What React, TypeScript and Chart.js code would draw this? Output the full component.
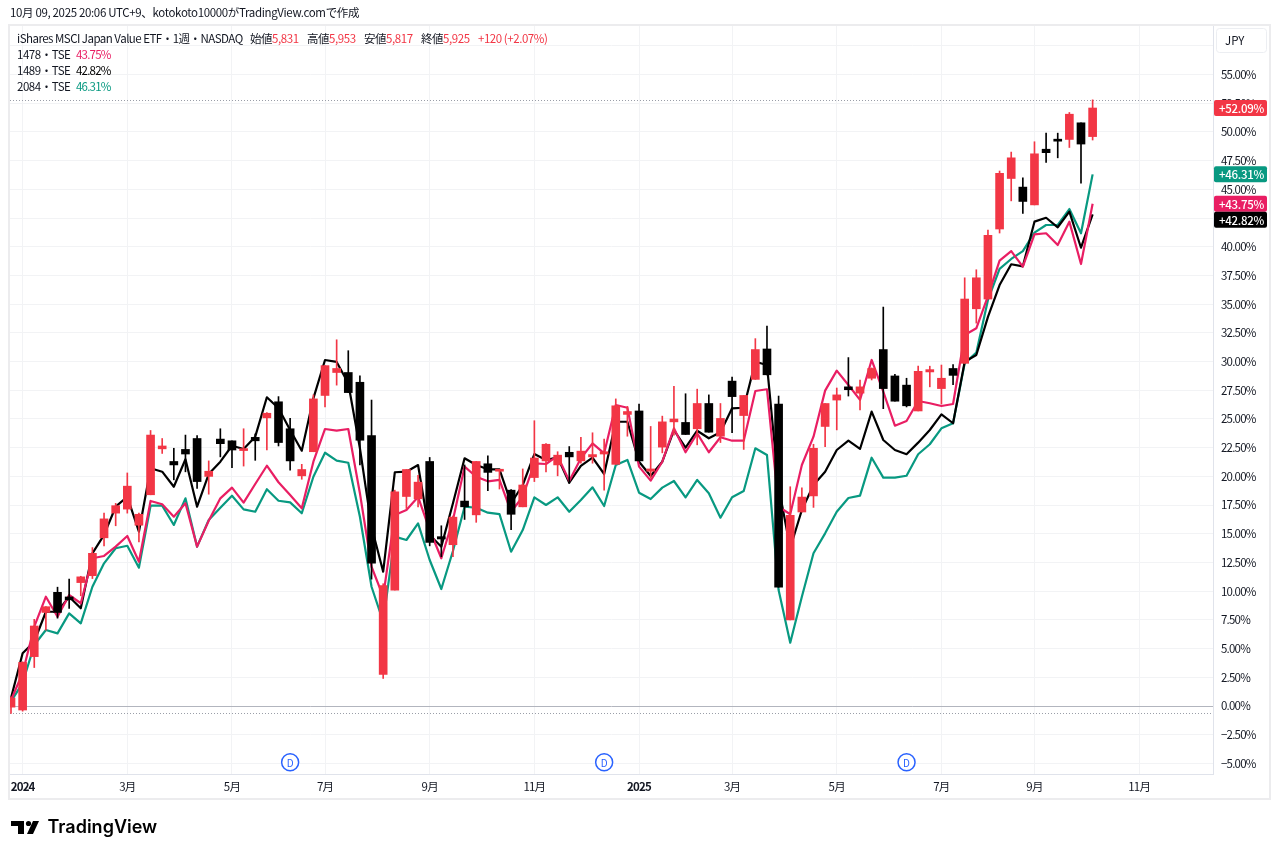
import React, { useEffect, useRef } from "react";
import { Chart, registerables } from "chart.js";

Chart.register(...registerables);

const FONT = '"Noto Sans CJK JP", sans-serif';
const RED = "#f23645";
const BLACK = "#000000";
const PINK = "#e91e63";
const TEAL = "#089981";
const TEXT = "#131722";

// weekly candles, % change from the first close
const opens = [
  -0.1, -0.35, 4.3, 8.15, 9.9, 9.5, 10.75, 11.35, 14.65, 16.8, 17.15, 15.75, 18.4, 22.4, 21.3, 22.35,
  23.3, 20, 23.25, 23.1, 22.25, 23.4, 25.1, 26.5, 24.15, 20.05, 22.15, 27.05, 29.05, 29.05, 28.2, 23.55,
  2.75, 10.1, 18.25, 18.05, 21.3, 14.75, 14.05, 17.85, 16.65, 21.1, 20.45, 18.8, 17.35, 19.9, 21.35, 21,
  22.1, 21.35, 21.7, 21.95, 21.05, 25.4, 25.7, 20.45, 22.55, 24.75, 24.7, 24.15, 26.35, 23.5, 28.3, 25.3,
  28.45, 31.1, 26.3, 7.5, 16.9, 18.3, 24.35, 26.65, 27.8, 27.25, 28.55, 31.05, 28.75, 27.95, 25.7, 29.1,
  27.65, 29.4, 29.85, 34.6, 35.45, 41.55, 45.95, 45.2, 43.65, 48.5, 49.3, 49.35, 50.8, 49.6,
];
const closes = [
  0.7, 3.8, 6.97, 8.65, 8.15, 9.25, 11.25, 13.3, 16.3, 17.45, 19.15, 16.7, 23.6, 22.65, 21, 21.95,
  19.55, 20.45, 22.85, 22.3, 22.4, 23.1, 25.5, 22.95, 21.35, 20.6, 26.75, 29.65, 29.4, 27.3, 23.15, 12.45,
  10.5, 18.65, 20.6, 19.5, 14.25, 14.55, 16.45, 17.35, 21.3, 20.35, 20.55, 16.7, 19.25, 21.6, 22.8, 21.85,
  21.7, 22.2, 21.9, 22.15, 26.15, 25.65, 21.35, 20.65, 24.75, 25, 23.65, 26.35, 23.85, 25.05, 26.95, 27.05,
  31.05, 28.85, 10.35, 16.6, 18.2, 22.45, 26.35, 27.1, 27.55, 27.8, 29.4, 27.65, 26.55, 26.15, 29.15, 29.3,
  28.55, 28.8, 35.45, 37.3, 41, 46.4, 47.75, 43.95, 48.1, 48.2, 49.2, 51.55, 48.95, 52.09,
];
const highs = [
  0.8, 3.85, 7.55, 8.65, 10.35, 11.05, 11.3, 13.8, 16.8, 17.65, 20.3, 16.8, 24, 23.3, 22.45, 23.6,
  23.55, 21.35, 24.15, 23.1, 24.15, 23.7, 25.55, 26.95, 25.05, 21.05, 27.1, 29.65, 31.9, 30.95, 28.75, 26.65,
  10.65, 18.8, 20.6, 20.1, 21.65, 15.7, 16.55, 21, 21.3, 21.8, 20.6, 18.85, 20.65, 24.85, 22.85, 22.15,
  22.6, 23.4, 23.8, 23.25, 26.75, 26.1, 26.3, 24.35, 25.25, 27.85, 27.2, 27.6, 27.1, 26.35, 28.65, 27.05,
  32, 33.1, 27, 19.1, 19, 22.8, 26.35, 27.7, 30.35, 28.4, 29.45, 34.75, 28.9, 28.55, 29.6, 29.6,
  29.7, 29.75, 37.3, 38, 41.45, 46.6, 48.25, 46, 49.15, 49.9, 49.9, 51.7, 50.8, 52.8,
];
const lows = [
  -0.65, -0.45, 3.35, 6.6, 7.65, 8.5, 9.6, 11.1, 13.95, 15.7, 16.8, 14.3, 18.4, 22, 19.7, 20.4,
  18.95, 18.45, 21.7, 20.75, 20.9, 21.4, 22.3, 22.65, 20.55, 19.75, 22.15, 26.05, 27.95, 27.3, 21, 11.05,
  2.4, 10.1, 17.2, 17.35, 13.95, 13, 13, 16.25, 16, 18.75, 18.9, 15.35, 17.35, 19.55, 20.4, 20.05,
  19.4, 21.15, 21.15, 18.8, 21.05, 23.5, 21.35, 19.85, 22.05, 23.6, 23.65, 22.75, 23.85, 22.95, 23.8, 22.35,
  28.45, 28.85, 10.35, 7.5, 16.9, 17.3, 22.6, 24.05, 27, 25.8, 28.4, 25.9, 26.55, 26.05, 25.7, 27.8,
  26.3, 28, 29.85, 33.35, 35.45, 41.2, 44, 42.9, 43.65, 47.35, 47.75, 48.65, 45.55, 49.3,
];

const series1478 = [
  0.5, 2.87, 6.91, 9.52, 7.78, 9.67, 8.95, 12.87, 13.07, 13.88, 14.81, 12.57, 17.86, 17.57, 16.49, 17.66,
  13.88, 16.14, 18.09, 19.02, 17.71, 19.34, 20.93, 19.49, 18.38, 17.22, 21.28, 24.13, 23.98, 24.13, 18.53, 12.13,
  9.52, 16.64, 17.07, 18.21, 15.33, 12.87, 16.2, 20.85, 19.97, 19.57, 19.69, 16.92, 18.23, 21.14, 21.08, 21.78,
  19.6, 21.58, 22.88, 22.01, 26.22, 25.98, 20.85, 19.63, 21.28, 24.19, 22.1, 23.75, 22.1, 23.41, 23.11, 23.11,
  27.44, 27.59, 17.36, 16.7, 20.99, 23.46, 27.47, 29.21, 27.96, 26.66, 30.14, 27.38, 24.42, 24.83, 26.57, 26.37,
  26.13, 26.31, 32.32, 32.9, 35.7, 38.79, 39.63, 38.27, 41.09, 41.18, 40.16, 42.19, 38.5, 43.75,
];
const series1489 = [
  0.7, 4.59, 5.6, 8.21, 8.21, 9.52, 8.51, 13.3, 14.9, 17.36, 18.23, 15.18, 20.71, 20.41, 19.1, 21.49,
  17.36, 20.2, 21.28, 22.67, 22.39, 23.46, 26.89, 25.93, 24.04, 22.24, 26.8, 30.14, 29.97, 28.11, 22.45, 15.62,
  11.7, 20.36, 20.41, 20.99, 14.9, 13.88, 17.66, 21.58, 20.99, 20.62, 20.62, 17.66, 19.25, 21.95, 21.43, 21.66,
  19.45, 20.91, 21.63, 20.21, 24.76, 24.76, 21.28, 20.03, 21.28, 24.04, 22.5, 23.98, 23.32, 23.84, 25.93, 25.98,
  29.99, 29.7, 19.08, 13.76, 17.07, 19.25, 20.41, 22.3, 23.11, 22.39, 25.64, 23.17, 22.3, 21.93, 22.94, 24.04,
  25.41, 24.63, 29.99, 30.57, 33.9, 36.67, 38.48, 38.3, 42.19, 42.53, 41.7, 43.06, 39.92, 42.82,
];
const series2084 = [
  0.4, 2, 5.31, 6.62, 6.33, 8.07, 7.2, 10.39, 12.43, 13.74, 13.96, 12.05, 17.45, 17.45, 15.77, 18.09,
  13.88, 16.2, 17.27, 18.32, 17.13, 16.92, 18.88, 17.88, 17.74, 16.79, 19.97, 22.06, 21.37, 21.19, 16.49, 10.39,
  7.34, 14.75, 14.46, 15.91, 12.72, 10.19, 13.5, 17.36, 17.27, 16.84, 16.72, 13.44, 15.33, 18.18, 17.51, 18.18,
  16.92, 17.94, 19.05, 17.42, 20.99, 21.43, 18.58, 18.03, 19.02, 19.6, 18.18, 19.69, 18.53, 16.4, 18.18, 18.73,
  22.45, 21.86, 10.1, 5.51, 9.52, 13.3, 15.04, 16.92, 18.12, 18.32, 21.63, 19.89, 19.89, 20.06, 21.93, 22.8,
  24.19, 24.63, 29.85, 30.78, 35.37, 38.07, 38.94, 39.63, 41.23, 41.9, 41.9, 43.29, 41.18, 46.31,
];

const timeTicks = [1, 10, 19, 27, 36, 45, 54, 62, 71, 80, 88, 97];
const timeLabels = ["2024", "3月", "5月", "7月", "9月", "11月", "2025", "3月", "5月", "7月", "9月", "11月"];
const yearLabels = ["2024", "2025"];
const priceTicks = [
  -5, -2.5, 0, 2.5, 5, 7.5, 10, 12.5, 15, 17.5, 20, 22.5, 25, 27.5, 30, 32.5, 35, 37.5, 40, 42.5, 45, 47.5, 50,
  52.5, 55, 57.5,
];
const dividendWeeks = [24, 51, 77];
const dividendLevel = -4.9;

const stamp = "10月 09, 2025 20:06 UTC+9、kotokoto10000がTradingView.comで作成";
const mainTitle = "iShares MSCI Japan Value ETF・1週・NASDAQ";
const ohlcNames = ["始値", "高値", "安値", "終値"];
const ohlcValues = ["5,831", "5,953", "5,817", "5,925"];
const ohlcChange = "+120 (+2.07%)";
const compareNames = ["1478・TSE", "1489・TSE", "2084・TSE"];
const compareValues = ["43.75%", "42.82%", "46.31%"];
const compareColors = [PINK, BLACK, TEAL];

const pts = (ys: number[]) => ys.map((y, x) => ({ x, y }));

const overlayPlugin = {
  id: "tvOverlay",
  beforeDraw(chart: any) {
    chart.ctx.letterSpacing = "-0.8px";
  },
  beforeDatasetsDraw(chart: any) {
    // series high / low price lines
    const { ctx, chartArea, scales } = chart;
    ctx.save();
    ctx.strokeStyle = "#9a9ea8";
    ctx.lineWidth = 1;
    ctx.setLineDash([1, 2]);
    [Math.max(...highs), Math.min(...lows)].forEach((v) => {
      const y = Math.round(scales.y.getPixelForValue(v)) + 0.5;
      ctx.beginPath();
      ctx.moveTo(chartArea.left, y);
      ctx.lineTo(chartArea.right, y);
      ctx.stroke();
    });
    ctx.restore();
  },
  afterDraw(chart: any) {
    const { ctx, scales, chartArea } = chart;
    ctx.save();

    // panel frame
    ctx.strokeStyle = "#ececee";
    ctx.lineWidth = 2;
    ctx.strokeRect(9, 25, 1261, 774);

    // D markers
    ctx.fillStyle = "#2962ff";
    ctx.font = `10px ${FONT}`;
    ctx.textAlign = "center";
    ctx.textBaseline = "middle";
    ctx.letterSpacing = "0px";
    dividendWeeks.forEach((w) => {
      ctx.fillText("D", scales.x.getPixelForValue(w), scales.y.getPixelForValue(dividendLevel) + 0.5);
    });

    // last value badges, pushed down when they would overlap
    const badges = [
      { v: closes[closes.length - 1], c: RED },
      { v: series2084[series2084.length - 1], c: TEAL },
      { v: series1478[series1478.length - 1], c: PINK },
      { v: series1489[series1489.length - 1], c: BLACK },
    ];
    let prev = -100;
    ctx.letterSpacing = "-0.3px";
    badges.forEach(({ v, c }) => {
      const cy = Math.max(scales.y.getPixelForValue(v), prev + 16);
      prev = cy;
      ctx.fillStyle = c;
      ctx.beginPath();
      ctx.roundRect(chartArea.right + 1, cy - 8, 53, 16, 2);
      ctx.fill();
      ctx.fillStyle = "#ffffff";
      ctx.font = `500 11.5px ${FONT}`;
      ctx.textAlign = "center";
      ctx.fillText(`+${v.toFixed(2)}%`, chartArea.right + 28.5, cy + 0.5);
    });

    // currency box
    ctx.fillStyle = "#ffffff";
    ctx.strokeStyle = "#eceef2";
    ctx.lineWidth = 1;
    ctx.beginPath();
    ctx.roundRect(1216.5, 28.5, 50, 24, 3);
    ctx.fill();
    ctx.stroke();
    ctx.fillStyle = TEXT;
    ctx.font = `11.5px ${FONT}`;
    ctx.textAlign = "left";
    ctx.letterSpacing = "0px";
    ctx.fillText("JPY", 1225, 41);

    // header texts
    ctx.fillStyle = TEXT;
    ctx.letterSpacing = "-0.35px";
    ctx.fillText(stamp, 10, 13);

    ctx.letterSpacing = "-0.52px";
    ctx.fillText(mainTitle, 17, 39);
    ctx.letterSpacing = "-0.45px";
    ohlcNames.forEach((name, i) => {
      const x = 250 + i * 57;
      ctx.fillStyle = TEXT;
      ctx.fillText(name, x, 39);
      ctx.fillStyle = RED;
      ctx.fillText(ohlcValues[i], x + ctx.measureText(name).width, 39);
    });
    ctx.fillStyle = RED;
    ctx.fillText(ohlcChange, 478, 39);
    compareNames.forEach((name, i) => {
      const y = 55 + i * 16;
      ctx.letterSpacing = "-0.45px";
      ctx.fillStyle = TEXT;
      ctx.fillText(name, 17, y);
      ctx.letterSpacing = "-0.8px";
      ctx.fillStyle = compareColors[i];
      ctx.fillText(compareValues[i], 76, y);
    });

    // TradingView mark
    ctx.fillStyle = "#000000";
    ctx.fillRect(11, 821, 13, 5);
    ctx.fillRect(18, 821, 6, 13);
    ctx.beginPath();
    ctx.arc(28.5, 823.5, 2.6, 0, Math.PI * 2);
    ctx.fill();
    ctx.beginPath();
    ctx.moveTo(33, 821);
    ctx.lineTo(39, 821);
    ctx.lineTo(33, 834);
    ctx.lineTo(27, 834);
    ctx.closePath();
    ctx.fill();
    ctx.letterSpacing = "0px";
    ctx.font = '600 18px Inter, "Noto Sans", sans-serif';
    ctx.fillText("TradingView", 47.5, 828);

    ctx.restore();
    ctx.letterSpacing = "0px";
  },
};

const App: React.FC = () => {
  const chartRef = useRef<HTMLCanvasElement | null>(null);

  useEffect(() => {
    const canvas = chartRef.current;
    if (!canvas) return;

    const candleColors = opens.map((o, i) => (closes[i] >= o ? RED : BLACK));
    const lineStyle = {
      type: "line" as const,
      borderWidth: 2.2,
      pointRadius: 0,
      tension: 0,
      borderJoinStyle: "round" as const,
    };

    const chart = new Chart(canvas, {
      type: "bar",
      data: {
        datasets: [
          {
            label: "body",
            data: opens.map((o, i) => ({ x: i, y: [o, closes[i]] })),
            backgroundColor: candleColors,
            barThickness: 8,
            minBarLength: 2,
            grouped: false,
            order: 0,
          },
          {
            label: "wick",
            data: lows.map((l, i) => ({ x: i, y: [l, highs[i]] })),
            backgroundColor: candleColors,
            barThickness: 1,
            grouped: false,
            order: 1,
          },
          { ...lineStyle, label: "1478", data: pts(series1478), borderColor: PINK, order: 2 },
          { ...lineStyle, label: "1489", data: pts(series1489), borderColor: BLACK, order: 3 },
          { ...lineStyle, label: "2084", data: pts(series2084), borderColor: TEAL, order: 4 },
          {
            type: "line",
            label: "dividends",
            data: dividendWeeks.map((x) => ({ x, y: dividendLevel })),
            showLine: false,
            pointRadius: 8.5,
            pointBackgroundColor: "#ffffff",
            pointBorderColor: "#2962ff",
            pointBorderWidth: 1.5,
            order: 5,
          },
        ] as any,
      },
      options: {
        responsive: false,
        animation: false,
        events: [],
        layout: { padding: { left: 9, top: 25, right: 10, bottom: 57 } },
        plugins: { legend: { display: false }, tooltip: { enabled: false } },
        scales: {
          x: {
            type: "linear",
            bounds: "data",
            offset: false,
            min: -0.086,
            max: 103.35,
            afterFit: (scale: any) => {
              scale.height = 25;
            },
            afterBuildTicks: (scale: any) => {
              scale.ticks = timeTicks.map((value) => ({ value }));
            },
            grid: { color: "#f2f3f5", drawTicks: false, offset: false },
            border: { color: "#e0e3eb" },
            ticks: {
              autoSkip: false,
              maxRotation: 0,
              padding: 6,
              color: TEXT,
              font: (ctx: any) => ({
                family: FONT,
                size: 11.5,
                weight: yearLabels.includes(timeLabels[ctx.index]) ? "bold" : "normal",
              }),
              callback: (_v: any, i: number) => timeLabels[i],
            },
          },
          y: {
            position: "right",
            bounds: "data",
            min: -5.923,
            max: 59.32,
            afterFit: (scale: any) => {
              scale.width = 57;
            },
            afterBuildTicks: (scale: any) => {
              scale.ticks = priceTicks.map((value) => ({ value }));
            },
            grid: {
              color: (ctx: any) => (ctx.tick && ctx.tick.value === 0 ? "#b2b5be" : "#f2f3f5"),
              drawTicks: false,
            },
            border: { color: "#e0e3eb" },
            ticks: {
              autoSkip: false,
              padding: 8,
              color: TEXT,
              font: { family: FONT, size: 11.5 },
              callback: (v: any) => {
                if (v === 57.5) return "";
                return `${v < 0 ? "−" : ""}${Math.abs(v).toFixed(2)}%`;
              },
            },
          },
        },
      },
      plugins: [overlayPlugin],
    } as any);

    return () => {
      chart.destroy();
    };
  }, []);

  return (
    <div style={{ position: "fixed", left: 0, top: 0, width: 1280, height: 856, background: "#ffffff" }}>
      <canvas ref={chartRef} width={1280} height={856} style={{ display: "block" }} />
    </div>
  );
};

export default App;
